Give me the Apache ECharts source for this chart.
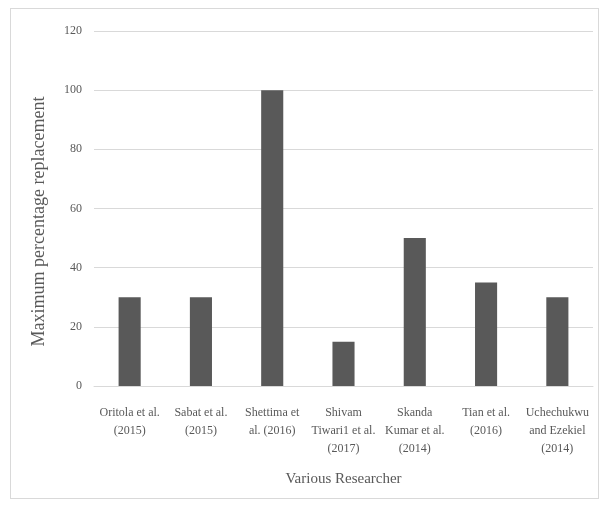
<!DOCTYPE html>
<html><head><meta charset="utf-8">
<script src="https://cdn.jsdelivr.net/npm/echarts@6/dist/echarts.min.js"></script>
<style>html,body{margin:0;padding:0;background:#fff}#c{width:604px;height:510px}
#frame{position:absolute;left:10px;top:8px;width:587px;height:489px;border:1px solid #d9d9d9;pointer-events:none}</style>
</head><body><div id="c"></div><div id="frame"></div>
<script>
const categories = ["Oritola et al.\n(2015)", "Sabat et al.\n(2015)", "Shettima et\nal. (2016)", "Shivam\nTiwari1 et al.\n(2017)", "Skanda\nKumar et al.\n(2014)", "Tian et al.\n(2016)", "Uchechukwu\nand Ezekiel\n(2014)"];
const values = [30, 30, 100, 15, 50, 35, 30];
const yTicks = [0, 20, 40, 60, 80, 100, 120];
const font = '"Liberation Serif", "DejaVu Serif", serif';
const chart = echarts.init(document.getElementById('c'));
chart.setOption({
  animation: false,
  grid: {left: 94, right: 11, top: 31, bottom: 124},
  xAxis: {
    type: 'category', data: categories,
    name: 'Various Researcher', nameLocation: 'middle', nameGap: 86,
    nameTextStyle: {fontFamily: font, fontSize: 15, color: '#595959'},
    axisLine: {lineStyle: {color: '#d9d9d9'}}, axisTick: {show: false},
    axisLabel: {interval: 0, fontFamily: font, fontSize: 12, color: '#595959', lineHeight: 18, margin: 18}
  },
  yAxis: {
    type: 'value', min: yTicks[0], max: yTicks[yTicks.length - 1], interval: 20,
    name: 'Maximum percentage replacement', nameLocation: 'middle', nameGap: 46,
    nameTextStyle: {fontFamily: font, fontSize: 18, color: '#595959', padding: [0, 26, 0, 0]},
    axisLine: {show: false}, axisTick: {show: false},
    axisLabel: {fontFamily: font, fontSize: 12, color: '#595959', margin: 12},
    splitLine: {lineStyle: {color: '#d9d9d9'}}
  },
  series: [{type: 'bar', data: values, barWidth: '31%', itemStyle: {color: '#595959'}}]
});
</script></body></html>
